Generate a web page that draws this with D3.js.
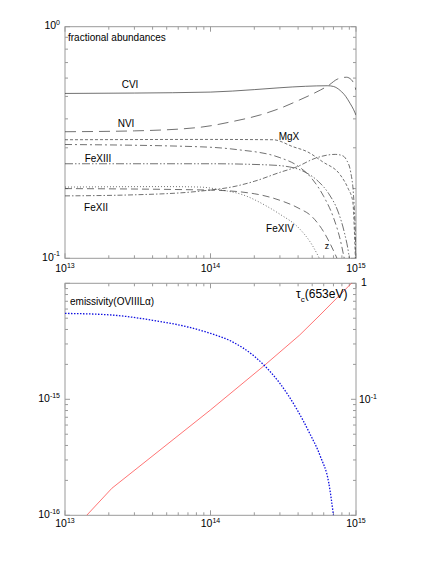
<!DOCTYPE html>
<html><head><meta charset="utf-8">
<script src="https://cdn.jsdelivr.net/npm/d3@7"></script>
<style>body{margin:0;background:#fff}svg{display:block;font-family:"Liberation Sans",Arial,sans-serif}</style>
</head><body>
<svg id="chart" width="436" height="564"></svg>
<script>
// ---- data ----
const xTickLabels = [13, 14, 15];
const cvi   = [[1e13,0.515],[3e13,0.517],[1e14,0.522],[2e14,0.535],[3e14,0.545],[4.5e14,0.553],[6.4e14,0.556],[7e14,0.552],[7.8e14,0.53],[8.5e14,0.5],[9.1e14,0.467],[9.6e14,0.44],[1e15,0.415]];
const nvi   = [[1e13,0.352],[3e13,0.355],[8.5e13,0.368],[1.43e14,0.39],[2.2e14,0.416],[3e14,0.444],[4.1e14,0.483],[5.7e14,0.533],[6.4e14,0.555],[7.5e14,0.595],[8.6e14,0.605],[9.3e14,0.59],[9.7e14,0.565],[1e15,0.533]];
const mgx   = [[1e13,0.325],[1e14,0.326],[2.7e14,0.325],[3.7e14,0.303],[4.6e14,0.289],[5.9e14,0.261],[7.8e14,0.229],[8.8e14,0.201],[9.5e14,0.176],[9.8e14,0.12],[9.9e14,0.1]];
const ionD  = [[1e13,0.31],[8.5e13,0.303],[1.5e14,0.295],[3e14,0.272],[4e14,0.25],[5e14,0.22],[6e14,0.185],[7e14,0.15],[7.8e14,0.12],[8.3e14,0.1]];
const fexiii= [[1e13,0.256],[1e14,0.256],[2.5e14,0.253],[3.5e14,0.248],[4.5e14,0.235],[5.5e14,0.215],[6.5e14,0.19],[7.5e14,0.16],[8.3e14,0.13],[8.9e14,0.105],[9e14,0.1]];
const ionE  = [[1e13,0.2],[1e14,0.197],[2e14,0.19],[3e14,0.178],[4e14,0.165],[5e14,0.151],[6e14,0.13],[7e14,0.108],[7.4e14,0.1]];
const fexiv = [[1e13,0.203],[5e13,0.204],[8.5e13,0.203],[1.2e14,0.197],[1.67e14,0.188],[2.43e14,0.168],[3e14,0.155],[4.1e14,0.134],[5e14,0.114],[5.6e14,0.1]];
const fexii = [[1e13,0.186],[3e13,0.188],[8.5e13,0.195],[1.5e14,0.205],[2e14,0.215],[3e14,0.235],[3.9e14,0.248],[5.3e14,0.271],[7.2e14,0.281],[8e14,0.278],[8.6e14,0.266],[9.2e14,0.235],[9.6e14,0.19],[9.85e14,0.14],[1e15,0.1]];
const emissivity = [[1e13,5.5e-15],[2e13,5.35e-15],[4e13,4.8e-15],[7e13,4.2e-15],[1e14,3.7e-15],[1.4e14,3.15e-15],[2e14,2.35e-15],[2.4e14,1.9e-15],[3e14,1.37e-15],[3.9e14,8.3e-16],[4.8e14,5.1e-16],[5.7e14,3.2e-16],[6.5e14,1.9e-16],[7e14,1.0e-16]];
const tau = [[1.41e13,0.01],[2.1e13,0.0171],[1e14,0.081],[2.37e14,0.198],[4.1e14,0.358],[5.66e14,0.533],[7.36e14,0.743],[9.3e14,1.0],[1e15,1.08]];

const ionSeries = [
  {name:"CVI",    data:cvi,    dash:null,               lx:130, ly:88},
  {name:"NVI",    data:nvi,    dash:"11,6",             lx:126, ly:127},
  {name:"MgX",    data:mgx,    dash:"3,2",              lx:289, ly:140},
  {name:"",       data:ionD,   dash:"7,3,2,3",          lx:0,   ly:0},
  {name:"FeXIII", data:fexiii, dash:"8,2,1.5,2,1.5,2",  lx:98,  ly:162},
  {name:"",       data:ionE,   dash:"7,4",              lx:0,   ly:0},
  {name:"FeXIV",  data:fexiv,  dash:"1,2",              lx:280, ly:232},
  {name:"FeXII",  data:fexii,  dash:"5,2,1.5,2",        lx:96,  ly:211}
];

const svg = d3.select("#chart");
const L = 65, R = 356;
const x = d3.scaleLog().domain([1e13,1e15]).range([L,R]);
const yTop = d3.scaleLog().domain([0.1,1]).range([258.3,26.7]);
const yBotL = d3.scaleLog().domain([1e-16,1e-14]).range([515.3,283.3]);
const yBotR = d3.scaleLog().domain([0.01,1]).range([515.3,283.3]);
const axisColor = "#9a9a9a";

function logTicks(domain){
  const out=[]; const d0=Math.round(Math.log10(domain[0])), d1=Math.round(Math.log10(domain[1]));
  for(let d=d0; d<=d1; d++) for(let k=1;k<=9;k++){ const v=k*Math.pow(10,d); if(v>=domain[0]*0.999 && v<=domain[1]*1.001) out.push({v, major:k===1}); }
  return out;
}
function frame(top,bottom,yL,yR){
  const g = svg.append("g");
  g.append("rect").attr("x",L).attr("y",top).attr("width",R-L).attr("height",bottom-top)
   .attr("fill","none").attr("stroke",axisColor).attr("stroke-width",1);
  logTicks(x.domain()).forEach(t=>{
    const len = t.major?5:3, xx=x(t.v);
    g.append("line").attr("x1",xx).attr("x2",xx).attr("y1",bottom).attr("y2",bottom-len).attr("stroke",axisColor);
    g.append("line").attr("x1",xx).attr("x2",xx).attr("y1",top).attr("y2",top+len).attr("stroke",axisColor);
  });
  logTicks(yL.domain()).forEach(t=>{
    const len=t.major?5:3, yy=yL(t.v);
    g.append("line").attr("x1",L).attr("x2",L+len).attr("y1",yy).attr("y2",yy).attr("stroke",axisColor);
  });
  logTicks(yR.domain()).forEach(t=>{
    const len=t.major?5:3, yy=yR(t.v);
    g.append("line").attr("x1",R).attr("x2",R-len).attr("y1",yy).attr("y2",yy).attr("stroke",axisColor);
  });
}
function supLabel(px,py,exp,anchor){
  const t = svg.append("text").attr("x",px).attr("y",py).attr("text-anchor",anchor).attr("font-size",10.5).attr("fill","#000");
  t.append("tspan").text("10");
  if(exp!==null) t.append("tspan").attr("dy",-4.5).attr("font-size",7).text(exp);
}

// ---- top panel ----
frame(26.7,258.3,yTop,yTop);
svg.append("clipPath").attr("id","clipTop").append("rect").attr("x",L).attr("y",26.7).attr("width",R-L).attr("height",258.3-26.7);
const lineTop = d3.line().x(d=>x(d[0])).y(d=>yTop(d[1])).curve(d3.curveMonotoneX);
const gTop = svg.append("g").attr("clip-path","url(#clipTop)");
ionSeries.forEach(s=>{
  gTop.append("path").attr("d",lineTop(s.data)).attr("fill","none").attr("stroke","#333")
    .attr("stroke-width",0.7).attr("stroke-dasharray",s.dash);
  if(s.name) svg.append("text").attr("x",s.lx).attr("y",s.ly).attr("text-anchor","middle").attr("font-size",10).text(s.name);
});
svg.append("text").attr("x",327).attr("y",249).attr("text-anchor","middle").attr("font-size",9).text("z");
svg.append("text").attr("x",68).attr("y",41).attr("font-size",10).text("fractional abundances");
supLabel(60, yTop(1)+2.5, "0", "end");
supLabel(60, yTop(0.1)+2.5, "-1", "end");
xTickLabels.forEach(e=>supLabel(x(Math.pow(10,e)), 272, String(e), "middle"));

// ---- bottom panel ----
frame(283.3,515.3,yBotL,yBotR);
svg.append("clipPath").attr("id","clipBot").append("rect").attr("x",L).attr("y",283.3).attr("width",R-L).attr("height",515.3-283.3);
const gBot = svg.append("g").attr("clip-path","url(#clipBot)");
gBot.append("path").attr("d", d3.line().x(d=>x(d[0])).y(d=>yBotR(d[1]))(tau))
  .attr("fill","none").attr("stroke","#ff5050").attr("stroke-width",0.8);
gBot.append("path").attr("d", d3.line().x(d=>x(d[0])).y(d=>yBotL(d[1])).curve(d3.curveMonotoneX)(emissivity))
  .attr("fill","none").attr("stroke","#1010e0").attr("stroke-width",1.3).attr("stroke-dasharray","1.5,1.5");
supLabel(60, yBotL(1e-15)+3, "-15", "end");
supLabel(60, yBotL(1e-16)+3, "-16", "end");
svg.append("text").attr("x",361).attr("y",yBotR(1)+3).attr("font-size",10.5).text("1");
supLabel(359, yBotR(0.1)+4, "-1", "start");
xTickLabels.forEach(e=>supLabel(x(Math.pow(10,e)), 527, String(e), "middle"));
svg.append("text").attr("x",70).attr("y",305).attr("font-size",10).text("emissivity(OVIIIL\u03b1)");
const tl = svg.append("text").attr("x",296).attr("y",298).attr("font-size",12);
tl.append("tspan").text("\u03c4");
tl.append("tspan").attr("dy",4).attr("font-size",8).text("c");
tl.append("tspan").attr("dy",-4).text("(653eV)");
</script>
</body></html>
